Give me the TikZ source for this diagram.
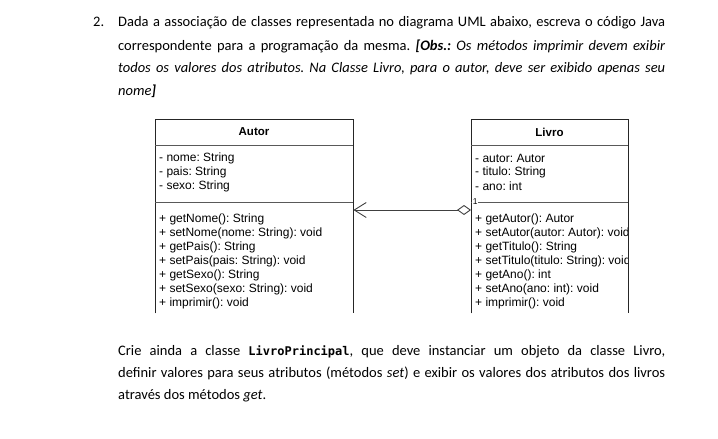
\documentclass[tikz,border=0pt]{standalone}
\usepackage{fontspec}
\setmainfont{Carlito}
\newfontfamily\umlfont{Liberation Sans}
\newfontfamily\codefont{DejaVu Sans Mono}
\usetikzlibrary{arrows.meta}
\frenchspacing

\tikzset{
  umlbox/.style={draw=black!85, line width=0.9pt},
  umlsep/.style={draw=black!65, line width=0.9pt},
  umltext/.style={anchor=west, inner sep=0pt, font=\umlfont\fontsize{12}{14}\selectfont},
  umltitle/.style={inner sep=0pt, font=\umlfont\bfseries\fontsize{11.5}{13}\selectfont},
  txtline/.style={anchor=base west, inner sep=0pt, font=\fontsize{14.5}{17}\selectfont},
  classarea/.style={anchor=north west, inner sep=0pt, minimum height=194pt},
}

\begin{document}
\begin{tikzpicture}[x=1pt, y=-1pt]
  \useasboundingbox (0,0) rectangle (718,439);

  % Aufgabe
  \node[txtline] (num) at (93,27) {2.};
  \node[txtline] (q1) at (118,27)
    {\makebox[547pt][s]{Dada a associação de classes representada no diagrama UML abaixo, escreva o código Java}};
  \node[txtline] (q2) at (118,50)
    {\makebox[547pt][s]{correspondente para a programação da mesma. \textbf{\textit{[Obs.:}} \textit{Os métodos imprimir devem exibir}}};
  \node[txtline] (q3) at (118,72.5)
    {\makebox[547pt][s]{\itshape todos os valores dos atributos. Na Classe Livro, para o autor, deve ser exibido apenas seu}};
  \node[txtline] (q4) at (118,95) {\textit{nome\textbf{]}}};

  % Klassen
  \node[classarea, minimum width=198pt] (autor) at (155,119) {};
  \node[classarea, minimum width=157pt] (livro) at (471,119) {};

  \draw[umlbox] (autor.south west) -- (autor.north west) -- (autor.north east) -- (autor.south east);
  \draw[umlbox] (livro.south west) -- (livro.north west) -- (livro.north east) -- (livro.south east);
  \draw[umlsep] (autor.west |- 0,145) -- (autor.east |- 0,145);
  \draw[umlsep] (autor.west |- 0,202) -- (autor.east |- 0,202);
  \draw[umlsep] (livro.west |- 0,145) -- (livro.east |- 0,145);
  \draw[umlsep] (livro.west |- 0,202) -- (livro.east |- 0,202);

  \node[umltitle] (autortitle) at (254,132) {Autor};
  \node[umltitle] (livrotitle) at (549.5,132) {Livro};

  \foreach \t [count=\i] in {- nome: String, - pais: String, - sexo: String}
    \node[umltext] (autorattr\i) at (159,144+14*\i) {\t};
  \foreach \t [count=\i] in {+ getNome(): String, + setNome(nome: String): void,
      + getPais(): String, + setPais(pais: String): void, + getSexo(): String,
      + setSexo(sexo: String): void, + imprimir(): void}
    \node[umltext] (autormeth\i) at (159,205+14*\i) {\t};

  \begin{scope}
    \clip (471,119) rectangle (627,320);
    \foreach \t [count=\i] in {- autor: Autor, - titulo: String, - ano: int}
      \node[umltext] (livroattr\i) at (475,144+14*\i) {\t};
    \foreach \t [count=\i] in {+ getAutor(): Autor, + setAutor(autor: Autor): void,
        + getTitulo(): String, + setTitulo(titulo: String): void, + getAno(): int,
        + setAno(ano: int): void, + imprimir(): void}
      \node[umltext] (livrometh\i) at (475,205+14*\i) {\t};
  \end{scope}

  % Assoziation
  \node[inner sep=0.6pt, fill=white, anchor=west, font=\umlfont\fontsize{8.5}{9}\selectfont] (mult) at (472,202) {1};
  \draw[draw=black!75, line width=0.9pt,
        {Diamond[open, length=14pt, width=10pt]}-{Straight Barb[length=12pt, width=15pt]}]
    (livro.west |- 0,210) -- (autor.east |- 0,210);

  % Zusatz
  \node[txtline] (c1) at (118,355)
    {\makebox[547pt][s]{Crie ainda a classe \textbf{\codefont\fontsize{12}{14}\selectfont LivroPrincipal}, que deve instanciar um objeto da classe Livro,}};
  \node[txtline] (c2) at (118,377)
    {\makebox[547pt][s]{definir valores para seus atributos (métodos \textit{set}) e exibir os valores dos atributos dos livros}};
  \node[txtline] (c3) at (118,399) {através dos métodos \textit{get}.};

\end{tikzpicture}
\end{document}
